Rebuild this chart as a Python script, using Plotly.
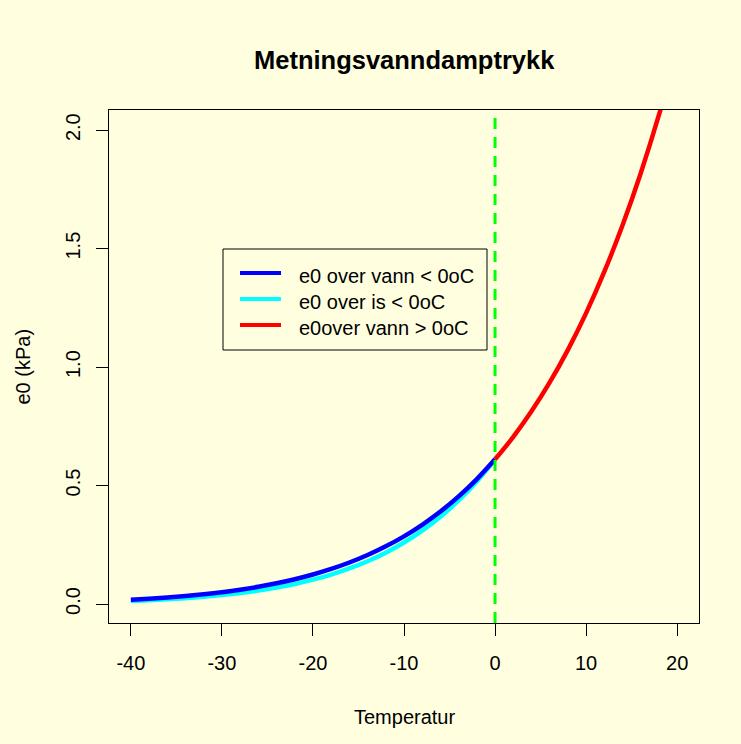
import plotly.graph_objects as go

# Temperatures (°C) and saturation vapour pressure (kPa)
temp_cold = [-40, -38, -36, -34, -32, -30, -28, -26, -24, -22, -20,
             -18, -16, -14, -12, -10, -8, -6, -4, -2, 0]
e0_water_cold = [0.0184, 0.0227, 0.0278, 0.0340, 0.0414, 0.0502, 0.0606, 0.0729,
                 0.0875, 0.1046, 0.1246, 0.1480, 0.1753, 0.2069, 0.2435, 0.2857,
                 0.3344, 0.3902, 0.4543, 0.5274, 0.6108]
e0_ice_cold = [0.0126, 0.0158, 0.0198, 0.0246, 0.0305, 0.0376, 0.0463, 0.0568,
               0.0695, 0.0846, 0.1028, 0.1244, 0.1502, 0.1807, 0.2169, 0.2595,
               0.3096, 0.3684, 0.4371, 0.5174, 0.6108]
temp_warm = [0, 2, 4, 6, 8, 10, 12, 14, 16, 18, 20]
e0_water_warm = [0.6108, 0.7056, 0.8133, 0.9351, 1.0728, 1.2279, 1.4025,
                 1.5986, 1.8183, 2.0640, 2.3382]

freeze_T = 0
x_ticks = [-40, -30, -20, -10, 0, 10, 20]
x_tick_labels = ["-40", "-30", "-20", "-10", "0", "10", "20"]
y_ticks = [0.0, 0.5, 1.0, 1.5, 2.0]
y_tick_labels = ["0.0", "0.5", "1.0", "1.5", "2.0"]

names = ["e0 over vann < 0oC", "e0 over is < 0oC", "e0over vann > 0oC"]
colors = ["#0000FF", "#00FFFF", "#FF0000"]

BG = "#FFFFE0"
FONT = "Liberation Sans, Arial, Helvetica, sans-serif"

# plot-area pixel geometry (for placing legend / labels in paper coords)
L, R, T, B = 109, 699, 110, 623
def px(X):
    return (X - L) / (R - L)
def py(Y):
    return (B - Y) / (B - T)

fig = go.Figure()
fig.add_trace(go.Scatter(x=temp_cold, y=e0_ice_cold, mode="lines", name=names[1],
                         line=dict(color=colors[1], width=4.5, shape="spline"),
                         showlegend=False))
fig.add_trace(go.Scatter(x=temp_cold, y=e0_water_cold, mode="lines", name=names[0],
                         line=dict(color=colors[0], width=4.5, shape="spline"),
                         showlegend=False))
fig.add_trace(go.Scatter(x=temp_warm, y=e0_water_warm, mode="lines", name=names[2],
                         line=dict(color=colors[2], width=4.5, shape="spline"),
                         showlegend=False))

fig.add_shape(type="line", xref="x", yref="paper", x0=freeze_T, x1=freeze_T, y0=0, y1=1,
              line=dict(color="#00FF00", width=3, dash="11px,8px"))

# legend box (R style)
fig.add_shape(type="rect", xref="paper", yref="paper",
              x0=px(223), x1=px(487), y0=py(350), y1=py(249),
              line=dict(color="black", width=1), fillcolor="rgba(0,0,0,0)")
annotations = []
row_line_y = [273, 299, 325]
row_text_y = [276, 302, 328]
for i in range(3):
    fig.add_shape(type="line", xref="paper", yref="paper",
                  x0=px(240), x1=px(281), y0=py(row_line_y[i]), y1=py(row_line_y[i]),
                  line=dict(color=colors[i], width=4))
    annotations.append(dict(text=names[i], xref="paper", yref="paper",
                            x=px(297), y=py(row_text_y[i]), xanchor="left", yanchor="middle",
                            showarrow=False, font=dict(family=FONT, size=20, color="black")))

axis_common = dict(showline=True, linecolor="black", linewidth=1.2, mirror=True,
                   ticks="outside", ticklen=12, tickwidth=1, tickcolor="black",
                   showgrid=False, zeroline=False,
                   tickfont=dict(family=FONT, size=20, color="black"))

fig.update_xaxes(range=[-42.4, 22.4], tickvals=x_ticks, ticktext=x_tick_labels,
                 ticklabelstandoff=10, **axis_common)
fig.update_yaxes(range=[-0.08, 2.085], tickvals=y_ticks, ticktext=y_tick_labels,
                 tickangle=-90, ticklabelstandoff=8, **axis_common)

annotations += [
    dict(text="<b>Metningsvanndamptrykk</b>", xref="paper", yref="paper",
         x=0.5, y=py(60), xanchor="center", yanchor="middle",
         showarrow=False, font=dict(family=FONT, size=25.5, color="black")),
    dict(text="Temperatur", xref="paper", yref="paper",
         x=0.5, y=py(717), xanchor="center", yanchor="middle",
         showarrow=False, font=dict(family=FONT, size=20, color="black")),
    dict(text="e0 (kPa)", xref="paper", yref="paper",
         x=px(22), y=0.5, xanchor="center", yanchor="middle",
         textangle=-90, showarrow=False, font=dict(family=FONT, size=20, color="black")),
]

fig.update_layout(
    width=741, height=744,
    margin=dict(l=L, r=741 - R, t=T, b=744 - B),
    paper_bgcolor=BG, plot_bgcolor=BG,
    font=dict(family=FONT, size=20, color="black"),
    showlegend=False,
    annotations=annotations,
)

fig.write_html("out.html")
